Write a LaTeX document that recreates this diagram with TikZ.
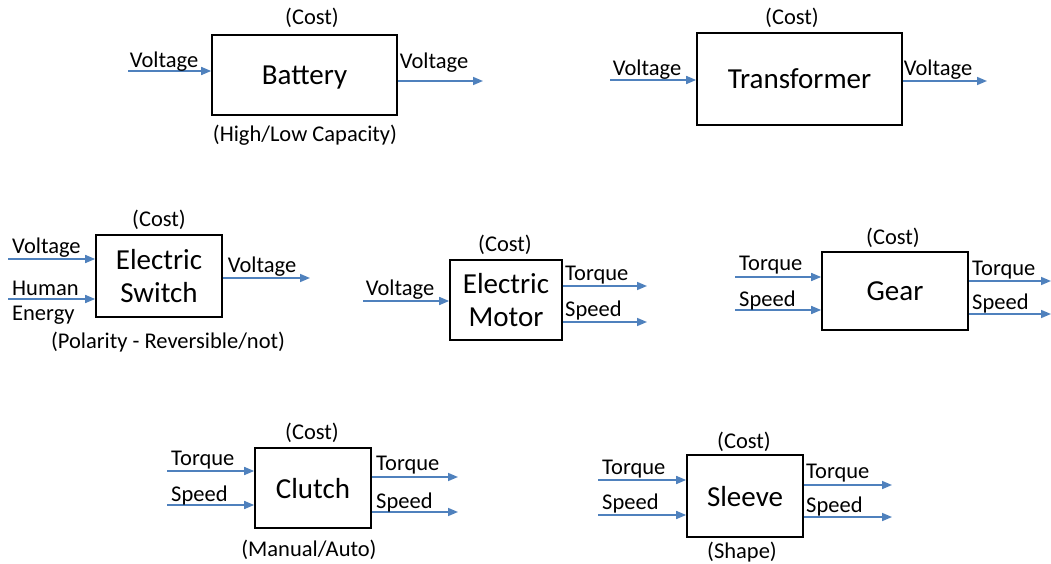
\documentclass[tikz,border=0pt]{standalone}
\usepackage{fontspec}
\setmainfont{Carlito}
\usetikzlibrary{arrows.meta}
\definecolor{arr}{RGB}{79,129,189}
\begin{document}
\begin{tikzpicture}[x=1pt,y=-1pt,
 blk/.style={draw=black,line width=1.7pt,inner sep=0pt,align=center,text depth=0pt,font=\fontsize{29}{33}\selectfont},
 lbl/.style={inner sep=0pt,font=\fontsize{22.5}{25}\selectfont},
 flow/.style={draw=arr,line width=1.6pt,-{Triangle[length=10pt,width=8pt]}}]
\useasboundingbox[fill=white] (0,0) rectangle (1051,563);

% Battery
\node[blk,minimum width=185pt,minimum height=80pt] (bat) at (304.5,75) {Battery};
\coordinate (batin) at (128,71);
\coordinate (batout) at (483,81);
\draw[flow] (batin) -- (batin -| bat.west);
\draw[flow] (bat.east |- batout) -- (batout);
\node[lbl] (batc) at (312,18) {(Cost)};
\node[lbl] (batl) at (305,135) {(High/Low Capacity)};
\node[lbl] (batvi) at (164,62) {Voltage};
\node[lbl] (batvo) at (434,63) {Voltage};

% Transformer
\node[blk,minimum width=205pt,minimum height=92pt] (tr) at (799.5,79) {Transformer};
\coordinate (trin) at (610,80);
\coordinate (trout) at (987,81);
\draw[flow] (trin) -- (trin -| tr.west);
\draw[flow] (tr.east |- trout) -- (trout);
\node[lbl] (trc) at (792,18) {(Cost)};
\node[lbl] (trvi) at (647,70) {Voltage};
\node[lbl] (trvo) at (938,70) {Voltage};

% Electric Switch
\node[blk,minimum width=126pt,minimum height=82pt] (sw) at (159,276) {Electric\\Switch};
\coordinate (swin1) at (8,259);
\coordinate (swin2) at (8,299);
\coordinate (swout) at (310,278);
\draw[flow] (swin1) -- (swin1 -| sw.west);
\draw[flow] (swin2) -- (swin2 -| sw.west);
\draw[flow] (sw.east |- swout) -- (swout);
\node[lbl,anchor=west] (swv) at (12,248) {Voltage};
\node[lbl,anchor=west] (swh) at (12,288) {Human};
\node[lbl,anchor=west] (swe) at (12,315) {Energy};
\node[lbl] (swvo) at (262,267) {Voltage};
\node[lbl] (swc) at (159,220) {(Cost)};
\node[lbl] (swp) at (168,342) {(Polarity - Reversible/not)};

% Electric Motor
\node[blk,minimum width=112pt,minimum height=80pt] (mo) at (506,300) {Electric\\Motor};
\coordinate (moin) at (363,301);
\coordinate (moout1) at (647,286);
\coordinate (moout2) at (647,322);
\draw[flow] (moin) -- (moin -| mo.west);
\draw[flow] (mo.east |- moout1) -- (moout1);
\draw[flow] (mo.east |- moout2) -- (moout2);
\node[lbl] (mov) at (400,290) {Voltage};
\node[lbl,anchor=west] (mot) at (565,275) {Torque};
\node[lbl,anchor=west] (mos) at (565,310) {Speed};
\node[lbl] (moc) at (505,245) {(Cost)};

% Gear
\node[blk,minimum width=146pt,minimum height=78pt] (ge) at (895,291) {Gear};
\coordinate (gein1) at (735,277);
\coordinate (gein2) at (735,310);
\coordinate (geout1) at (1051,281);
\coordinate (geout2) at (1051,314);
\draw[flow] (gein1) -- (gein1 -| ge.west);
\draw[flow] (gein2) -- (gein2 -| ge.west);
\draw[flow] (ge.east |- geout1) -- (geout1);
\draw[flow] (ge.east |- geout2) -- (geout2);
\node[lbl,anchor=west] (geti) at (739,265) {Torque};
\node[lbl,anchor=west] (gesi) at (739,300) {Speed};
\node[lbl,anchor=west] (geto) at (972,270) {Torque};
\node[lbl,anchor=west] (geso) at (972,303) {Speed};
\node[lbl] (gec) at (893,238) {(Cost)};

% Clutch
\node[blk,minimum width=116pt,minimum height=80pt] (cl) at (313,488) {Clutch};
\coordinate (clin1) at (167,471);
\coordinate (clin2) at (167,505);
\coordinate (clout1) at (458,477);
\coordinate (clout2) at (458,512);
\draw[flow] (clin1) -- (clin1 -| cl.west);
\draw[flow] (clin2) -- (clin2 -| cl.west);
\draw[flow] (cl.east |- clout1) -- (clout1);
\draw[flow] (cl.east |- clout2) -- (clout2);
\node[lbl,anchor=west] (clti) at (171,460) {Torque};
\node[lbl,anchor=west] (clsi) at (171,495) {Speed};
\node[lbl,anchor=west] (clto) at (376,465) {Torque};
\node[lbl,anchor=west] (clso) at (376,502) {Speed};
\node[lbl] (clc) at (312,433) {(Cost)};
\node[lbl] (clm) at (309,550) {(Manual/Auto)};

% Sleeve
\node[blk,minimum width=116pt,minimum height=82pt] (sl) at (745,496) {Sleeve};
\coordinate (slin1) at (598,480);
\coordinate (slin2) at (598,515);
\coordinate (slout1) at (892,485);
\coordinate (slout2) at (892,517);
\draw[flow] (slin1) -- (slin1 -| sl.west);
\draw[flow] (slin2) -- (slin2 -| sl.west);
\draw[flow] (sl.east |- slout1) -- (slout1);
\draw[flow] (sl.east |- slout2) -- (slout2);
\node[lbl,anchor=west] (slti) at (602,469) {Torque};
\node[lbl,anchor=west] (slsi) at (602,503) {Speed};
\node[lbl,anchor=west] (slto) at (806,473) {Torque};
\node[lbl,anchor=west] (slso) at (806,506) {Speed};
\node[lbl] (slc) at (744,442) {(Cost)};
\node[lbl] (slsh) at (742,552) {(Shape)};
\end{tikzpicture}
\end{document}
